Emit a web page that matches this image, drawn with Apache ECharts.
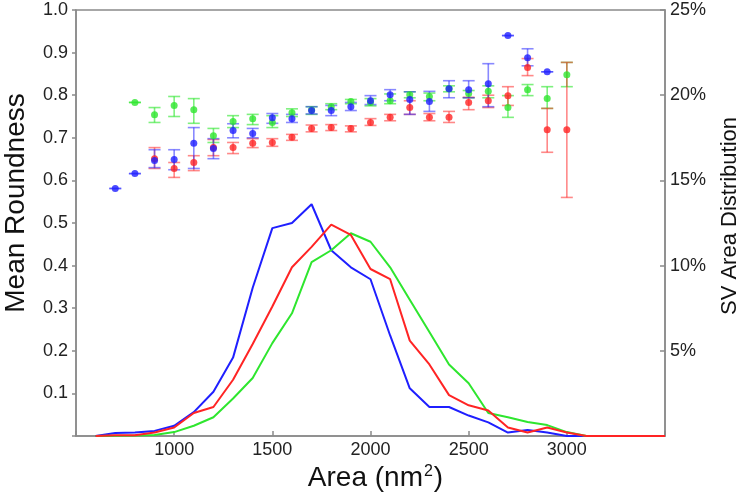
<!DOCTYPE html>
<html>
<head>
<meta charset="utf-8">
<script src="https://cdn.jsdelivr.net/npm/echarts@6/dist/echarts.min.js"></script>
<style>html,body{margin:0;padding:0;background:#fff}#c{width:750px;height:496px}</style>
</head>
<body>
<div id="c"></div>
<script>
// ---- Data ----
// Mean roundness (left axis) with error bars, sampled every 100 nm^2
const blueX    = [700,800,900,1000,1100,1200,1300,1400,1500,1600,1700,1800,1900,2000,2100,2200,2300,2400,2500,2600,2700,2800,2900];
const blueMean = [0.581,0.616,0.647,0.649,0.687,0.675,0.717,0.710,0.747,0.745,0.764,0.764,0.773,0.787,0.801,0.790,0.785,0.815,0.813,0.827,0.940,0.888,0.855];
const blueLow  = [0.581,0.616,0.630,0.625,0.628,0.651,0.700,0.700,0.734,0.736,0.756,0.752,0.764,0.778,0.787,0.755,0.762,0.794,0.794,0.773,0.940,0.869,0.855];
const blueHigh = [0.581,0.616,0.672,0.672,0.724,0.698,0.733,0.722,0.757,0.755,0.773,0.776,0.783,0.799,0.813,0.808,0.809,0.834,0.834,0.874,0.940,0.909,0.855];

const greenX    = [800,900,1000,1100,1200,1300,1400,1500,1600,1700,1800,1900,2000,2100,2200,2300,2400,2500,2600,2700,2800,2900,3000];
const greenMean = [0.783,0.754,0.776,0.766,0.705,0.738,0.745,0.736,0.759,0.765,0.773,0.785,0.783,0.787,0.801,0.797,0.815,0.804,0.809,0.771,0.813,0.792,0.848];
const greenLow  = [0.783,0.736,0.750,0.734,0.689,0.724,0.731,0.724,0.750,0.755,0.766,0.780,0.775,0.780,0.794,0.787,0.808,0.794,0.794,0.748,0.799,0.769,0.820];
const greenHigh = [0.783,0.771,0.797,0.792,0.722,0.752,0.755,0.752,0.768,0.773,0.780,0.790,0.792,0.803,0.808,0.805,0.822,0.811,0.822,0.799,0.825,0.820,0.877];

const redX    = [900,1000,1100,1200,1300,1400,1500,1600,1700,1800,1900,2000,2100,2200,2300,2400,2500,2600,2700,2800,2900,3000];
const redMean = [0.651,0.628,0.642,0.677,0.677,0.687,0.689,0.701,0.722,0.724,0.722,0.736,0.748,0.771,0.748,0.748,0.783,0.787,0.799,0.865,0.719,0.719];
const redLow  = [0.628,0.607,0.623,0.658,0.663,0.677,0.680,0.694,0.714,0.717,0.714,0.729,0.740,0.755,0.740,0.736,0.766,0.771,0.776,0.846,0.666,0.560];
const redHigh = [0.677,0.642,0.658,0.696,0.689,0.698,0.698,0.708,0.730,0.731,0.728,0.745,0.755,0.787,0.757,0.762,0.795,0.800,0.820,0.886,0.769,0.877];

// SV area distribution (right axis, %)
const distX     = [600,700,800,900,1000,1100,1200,1300,1400,1500,1600,1700,1800,1900,2000,2100,2200,2300,2400,2500,2600,2700,2800,2900,3000,3100,3200,3300,3400,3500];
const blueDist  = [0,0.18,0.2,0.3,0.6,1.4,2.6,4.6,8.7,12.2,12.5,13.6,10.9,9.9,9.2,5.9,2.8,1.7,1.7,1.2,0.8,0.2,0.35,0.2,0,0,0,0,0,0];
const greenDist = [0,0.02,0.03,0.06,0.23,0.6,1.1,2.2,3.4,5.45,7.2,10.2,10.9,11.9,11.4,9.9,8.0,6.1,4.2,3.1,1.35,1.1,0.82,0.64,0.23,0,0,0,0,0];
const redDist   = [0,0.05,0.05,0.2,0.5,1.35,1.7,3.3,5.4,7.6,9.9,11.1,12.4,11.8,9.8,9.2,5.6,4.2,2.4,1.8,1.5,0.5,0.2,0.5,0.2,0,0,0,0,0];

// Axis ticks
const xTickLabels = [1000,1500,2000,2500,3000];

// ---- Styles ----
const COL = {blue:'#1f1fff', red:'#ff2424', green:'#2ee62e'};
const ERR = {blue:'rgba(40,40,255,0.55)', red:'rgba(255,40,40,0.55)', green:'rgba(40,230,40,0.6)'};
const FONT = 'Liberation Sans, Arial, sans-serif';
const AXC = '#8a8a8a';

function pairs(xs, ys){ return xs.map((x,i)=>[x, ys[i]]); }
function errData(xs, lo, hi){ return xs.map((x,i)=>[x, lo[i], hi[i]]); }

function errSeries(name, xs, lo, hi, color){
  return {
    type:'custom', name: name+' err', yAxisIndex:0, z:3,
    data: errData(xs, lo, hi),
    encode:{x:0, y:[1,2]},
    renderItem: function(params, api){
      const x = api.value(0);
      const pl = api.coord([x, api.value(1)]);
      const ph = api.coord([x, api.value(2)]);
      const w = 6;
      const st = {stroke: color, lineWidth: 1.6};
      return {type:'group', children:[
        {type:'line', shape:{x1:pl[0], y1:pl[1], x2:ph[0], y2:ph[1]}, style:st},
        {type:'line', shape:{x1:pl[0]-w, y1:pl[1], x2:pl[0]+w, y2:pl[1]}, style:st},
        {type:'line', shape:{x1:ph[0]-w, y1:ph[1], x2:ph[0]+w, y2:ph[1]}, style:st}
      ]};
    }
  };
}
function ptSeries(name, xs, ys, color){
  return {type:'scatter', name:name, yAxisIndex:0, z:4, data: pairs(xs, ys),
    symbol:'circle', symbolSize:7, itemStyle:{color: color}};
}
function lineSeries(name, ys, color){
  return {type:'line', name:name, yAxisIndex:1, z:2, data: pairs(distX, ys),
    showSymbol:false, symbol:'none', lineStyle:{color: color, width:2}};
}

const chart = echarts.init(document.getElementById('c'), null, {renderer:'canvas'});
chart.setOption({
  animation:false,
  backgroundColor:'#fff',
  grid:{left:76, right:85, top:10, bottom:60, containLabel:false, outerBoundsMode:'none',
        show:true, borderColor:AXC, borderWidth:1.5},
  xAxis:{
    type:'value', min:500, max:3500, interval:500,
    name:'Area (nm{sup|2})', nameLocation:'middle', nameGap:22,
    nameTextStyle:{fontFamily:FONT, fontSize:28, color:'#111', padding:[0,0,0,10],
      rich:{sup:{fontFamily:FONT, fontSize:16, color:'#111', verticalAlign:'top', padding:[0,1,12,1]}}},
    axisLine:{lineStyle:{color:AXC, width:1.5}},
    axisTick:{inside:true, length:5, lineStyle:{color:AXC, width:1.5}},
    axisLabel:{fontFamily:FONT, fontSize:18, color:'#222', margin:5,
      formatter: v => xTickLabels.indexOf(v) >= 0 ? String(v) : ''},
    splitLine:{show:false}
  },
  yAxis:[
    {type:'value', min:0, max:1, interval:0.1, position:'left',
     name:'Mean Roundness', nameLocation:'middle', nameGap:46, nameRotate:90,
     nameTextStyle:{fontFamily:FONT, fontSize:28, color:'#111', padding:[0,0,0,40]},
     axisLine:{show:true, lineStyle:{color:AXC, width:1.5}},
     axisTick:{show:true, inside:false, length:4, lineStyle:{color:AXC, width:1.5}},
     axisLabel:{fontFamily:FONT, fontSize:18, color:'#222', margin:8,
       formatter: v => v === 0 ? '' : v.toFixed(1)},
     splitLine:{show:false}},
    {type:'value', min:0, max:25, interval:5, position:'right',
     name:'SV Area Distribution', nameLocation:'middle', nameGap:54, nameRotate:90,
     nameTextStyle:{fontFamily:FONT, fontSize:22, color:'#111', padding:[0,0,0,14]},
     axisLine:{show:true, lineStyle:{color:AXC, width:1.5}},
     axisTick:{show:true, inside:true, length:5, lineStyle:{color:AXC, width:1.5}},
     axisLabel:{fontFamily:FONT, fontSize:18, color:'#222', margin:5,
       formatter: v => v === 0 ? '' : v + '%'},
     splitLine:{show:false}}
  ],
  series:[
    lineSeries('blue dist', blueDist, COL.blue),
    lineSeries('green dist', greenDist, COL.green),
    lineSeries('red dist', redDist, COL.red),
    errSeries('green', greenX, greenLow, greenHigh, ERR.green),
    errSeries('red', redX, redLow, redHigh, ERR.red),
    errSeries('blue', blueX, blueLow, blueHigh, ERR.blue),
    ptSeries('green', greenX, greenMean, COL.green),
    ptSeries('red', redX, redMean, COL.red),
    ptSeries('blue', blueX, blueMean, COL.blue)
  ]
});
</script>
</body>
</html>
